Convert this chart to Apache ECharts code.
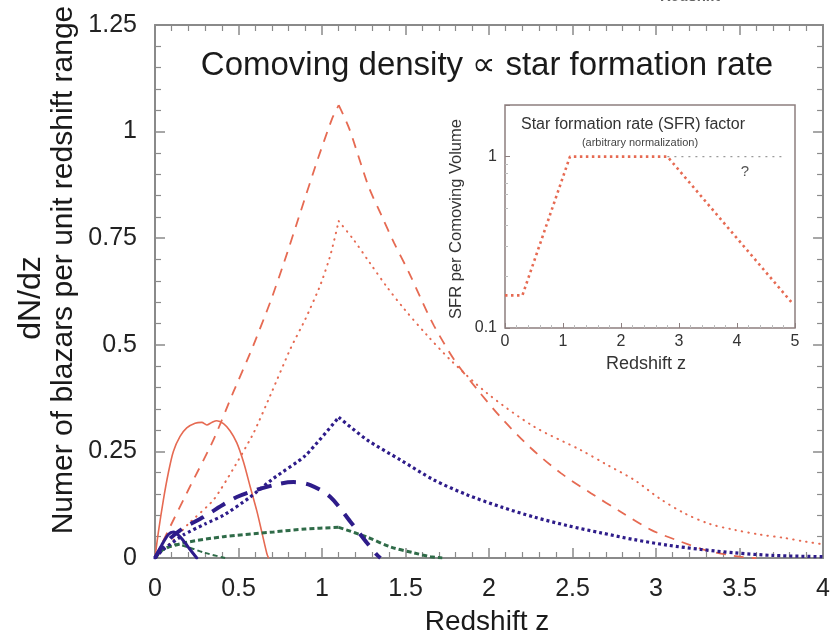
<!DOCTYPE html>
<html><head><meta charset="utf-8">
<script src="https://cdn.jsdelivr.net/npm/echarts@6/dist/echarts.min.js"></script>
<style>html,body{margin:0;padding:0;background:#fff}#c{width:833px;height:637px}</style>
</head><body><div id="c"></div>
<script>
// ---- data (z, dN/dz) ----
var redSolid = [[0,0],[0.02,0.06],[0.05,0.136],[0.08,0.2],[0.11,0.25],[0.15,0.285],[0.19,0.305],[0.24,0.316],[0.28,0.318],[0.31,0.312],[0.34,0.318],[0.37,0.322],[0.41,0.315],[0.45,0.298],[0.49,0.27],[0.53,0.225],[0.57,0.167],[0.61,0.11],[0.64,0.06],[0.67,0.01],[0.68,0]];
var redDashRise = [[0,0],[0.09,0.073],[0.2,0.16],[0.35,0.277],[0.47,0.39],[0.58,0.49],[0.69,0.6],[0.77,0.69],[0.87,0.81],[0.97,0.93],[1.06,1.03],[1.1,1.062]];
var redDashFall = [[1.1,1.062],[1.16,1.01],[1.22,0.94],[1.28,0.87],[1.36,0.8],[1.43,0.74],[1.52,0.67],[1.59,0.61],[1.67,0.545],[1.8,0.46],[1.93,0.395],[2.07,0.33],[2.25,0.258],[2.43,0.199],[2.61,0.152],[2.79,0.108],[2.97,0.066],[3.15,0.038],[3.3,0.018],[3.5,0.003],[3.6,0]];
var redDotRise = [[0,0],[0.11,0.042],[0.2,0.08],[0.35,0.136],[0.47,0.21],[0.59,0.293],[0.7,0.39],[0.81,0.49],[0.9,0.56],[0.99,0.64],[1.05,0.71],[1.1,0.79]];
var redDotFall = [[1.1,0.79],[1.19,0.746],[1.29,0.69],[1.39,0.635],[1.49,0.585],[1.63,0.522],[1.77,0.464],[1.99,0.386],[2.27,0.308],[2.55,0.253],[2.7,0.22],[2.87,0.183],[3.02,0.14],[3.17,0.105],[3.32,0.08],[3.47,0.066],[3.62,0.055],[3.77,0.047],[3.9,0.038],[4.0,0.032]];
var blueDotRise = [[0,0],[0.05,0.02],[0.17,0.054],[0.3,0.08],[0.41,0.1],[0.56,0.14],[0.71,0.187],[0.9,0.24],[1.1,0.33]];
var blueDotFall = [[1.1,0.33],[1.27,0.277],[1.47,0.23],[1.67,0.183],[1.87,0.148],[2.07,0.12],[2.27,0.096],[2.47,0.076],[2.67,0.059],[2.87,0.043],[3.07,0.03],[3.27,0.02],[3.47,0.012],[3.7,0.006],[4.0,0.003]];
var blueDash = [[0,0],[0.05,0.03],[0.15,0.065],[0.29,0.096],[0.49,0.143],[0.71,0.171],[0.83,0.178],[0.93,0.171],[1.05,0.143],[1.17,0.085],[1.27,0.035],[1.33,0.007],[1.35,0]];
var blueSolid = [[0,0],[0.04,0.03],[0.08,0.055],[0.11,0.061],[0.15,0.05],[0.2,0.025],[0.25,0]];
var greenRise = [[0,0],[0.05,0.02],[0.17,0.035],[0.41,0.05],[0.71,0.061],[0.9,0.068],[1.1,0.072]];
var greenFall = [[1.1,0.072],[1.27,0.049],[1.41,0.026],[1.55,0.012],[1.65,0.003],[1.72,0]];
var greenSmall = [[0,0],[0.05,0.02],[0.12,0.032],[0.2,0.025],[0.3,0.012],[0.42,0]];
// inset: star formation rate factor
var sfr = [[0,0.155],[0.3,0.155],[1.12,1],[2.8,1],[4.95,0.14]];
var sfrFlat = [[2.8,1],[4.85,1]];
// axis labels
var titleText = 'Comoving density \u221d star formation rate';
var yTitle1 = 'dN/dz';
var yTitle2 = 'Numer of blazars per unit redshift range';
var xTitle = 'Redshift z';
var insetTitle1 = 'Star formation rate (SFR) factor';
var insetTitle2 = '(arbitrary normalization)';
var insetYTitle = 'SFR per Comoving Volume';

var RED = '#e66a52', BLUE = '#2e1c8a', GREEN = '#2f6b48';
var FONT = '"Liberation Sans", Arial, sans-serif';

function line(data, color, width, type, smooth, cap, xi, yi) {
  return {type:'line', data:data, showSymbol:false, symbol:'none', smooth:smooth,
    xAxisIndex:xi||0, yAxisIndex:yi||0, silent:true,
    lineStyle:{color:color, width:width, type:type, cap:cap||'butt'}};
}
var frame = '#8a8a8a';
function mainX(pos, showLabel) {
  return {type:'value', gridIndex:0, position:pos, min:0, max:4, interval:0.5,
    axisLine:{show:true, onZero:false, lineStyle:{color:frame, width:2}},
    axisTick:{show:true, inside:true, length:10, lineStyle:{color:frame, width:1.5}},
    minorTick:{show:true, splitNumber:5, length:6, lineStyle:{color:frame, width:1.2}},
    splitLine:{show:false},
    axisLabel:{show:showLabel, color:'#222', fontSize:25, fontFamily:FONT, margin:19}};
}
function mainY(pos, showLabel) {
  return {type:'value', gridIndex:0, position:pos, min:0, max:1.25, interval:0.25,
    axisLine:{show:true, onZero:false, lineStyle:{color:frame, width:2}},
    axisTick:{show:true, inside:true, length:10, lineStyle:{color:frame, width:1.5}},
    minorTick:{show:true, splitNumber:5, length:6, lineStyle:{color:frame, width:1.2}},
    splitLine:{show:false},
    axisLabel:{show:showLabel, color:'#222', fontSize:25, fontFamily:FONT, margin:18}};
}
var iframe = '#8d7f7f';
var chart = echarts.init(document.getElementById('c'), null, {renderer:'canvas'});
chart.setOption({
  animation:false,
  backgroundColor:'#fff',
  grid:[
    {left:155, top:25, right:8, bottom:79},
    {left:505, top:105, width:290, height:223, show:true, backgroundColor:'#fff', borderColor:iframe, borderWidth:1.5}
  ],
  xAxis:[
    mainX('bottom', true), mainX('top', false),
    {type:'value', gridIndex:1, min:0, max:5, interval:1,
     axisLine:{show:false}, splitLine:{show:false},
     axisTick:{show:true, inside:true, length:5, lineStyle:{color:iframe}},
     minorTick:{show:true, splitNumber:5, length:3, lineStyle:{color:'#bbb'}},
     axisLabel:{color:'#333', fontSize:16, fontFamily:FONT, margin:6}}
  ],
  yAxis:[
    mainY('left', true), mainY('right', false),
    {type:'log', gridIndex:1, logBase:10, min:0.1, max:2,
     axisLine:{show:false}, splitLine:{show:false},
     axisTick:{show:true, inside:true, length:5, lineStyle:{color:iframe}},
     minorTick:{show:true, splitNumber:9, length:3, lineStyle:{color:'#bbb'}},
     axisLabel:{color:'#333', fontSize:16, fontFamily:FONT, margin:8, showMaxLabel:false,
       formatter:function(v){ if (Math.abs(v-0.1)<1e-9) return '0.1'; if (Math.abs(v-1)<1e-9) return '1'; return ''; }}}
  ],
  series:[
    line(redSolid, RED, 1.6, 'solid', 0.3, 'round'),
    line(redDashRise, RED, 1.8, [10,8], 0.2),
    line(redDashFall, RED, 1.8, [10,8], 0.3),
    line(redDotRise, RED, 2, [0.5,6], 0.2, 'round'),
    line(redDotFall, RED, 2, [0.5,6], 0.3, 'round'),
    line(greenSmall, GREEN, 2, [5,3], 0.3),
    line(greenRise, GREEN, 3, [5,3], 0.3),
    line(greenFall, GREEN, 3, [5,3], 0.3),
    line(blueDotRise, BLUE, 3.2, [3,3], 0.2),
    line(blueDotFall, BLUE, 3.2, [3,3], 0.3),
    line(blueDash, BLUE, 4, [15,10], 0.3),
    line(blueSolid, BLUE, 3, 'solid', 0.3, 'round'),
    line(sfrFlat, '#9a9a9a', 1.2, [2,5], false, 'butt', 2, 2),
    line(sfr, RED, 2.6, [2.5,3.5], false, 'butt', 2, 2)
  ],
  graphic:[
    {type:'text', x:487, y:66, style:{text:titleText, font:'33px '+FONT, fill:'#1a1a1a', align:'center', verticalAlign:'middle'}},
    {type:'text', x:31, y:298, rotation:Math.PI/2, style:{text:yTitle1, font:'32px '+FONT, fill:'#1a1a1a', align:'center', verticalAlign:'middle'}},
    {type:'text', x:64, y:270, rotation:Math.PI/2, style:{text:yTitle2, font:'30px '+FONT, fill:'#1a1a1a', align:'center', verticalAlign:'middle'}},
    {type:'text', x:487, y:622, style:{text:xTitle, font:'28px '+FONT, fill:'#1a1a1a', align:'center', verticalAlign:'middle'}},
    {type:'text', x:633, y:125, style:{text:insetTitle1, font:'16px '+FONT, fill:'#333', align:'center', verticalAlign:'middle'}},
    {type:'text', x:640, y:143, style:{text:insetTitle2, font:'11px '+FONT, fill:'#444', align:'center', verticalAlign:'middle'}},
    {type:'text', x:456, y:219, rotation:Math.PI/2, style:{text:insetYTitle, font:'16.5px '+FONT, fill:'#333', align:'center', verticalAlign:'middle'}},
    {type:'text', x:646, y:364, style:{text:xTitle, font:'18px '+FONT, fill:'#333', align:'center', verticalAlign:'middle'}},
    {type:'text', x:745, y:172, style:{text:'?', font:'15px '+FONT, fill:'#555', align:'center', verticalAlign:'middle'}},
    {type:'text', x:690, y:-3, style:{text:'Redshift', font:'bold 15px '+FONT, fill:'#666', align:'center', verticalAlign:'middle'}}
  ]
});
</script></body></html>
